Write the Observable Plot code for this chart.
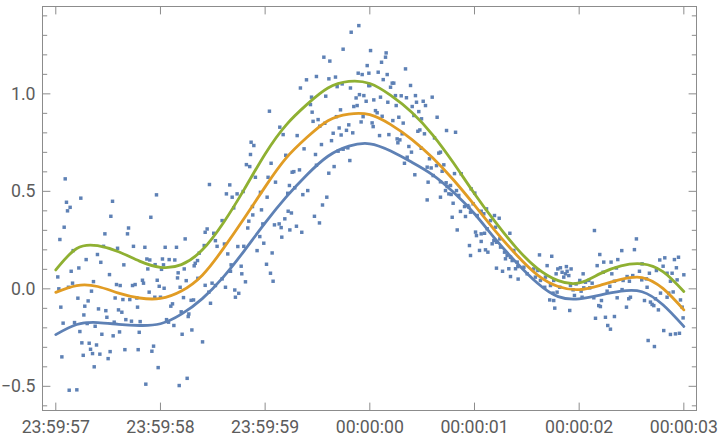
<!DOCTYPE html>
<html>
<head>
<meta charset="utf-8">
<script src="https://cdn.jsdelivr.net/npm/d3@7"></script>
<script src="https://cdn.jsdelivr.net/npm/@observablehq/plot@0.6"></script>
<style>
  html, body { margin: 0; padding: 0; background: #ffffff; }
  #chart { width: 720px; height: 440px; }
</style>
</head>
<body>
<div id="chart"></div>
<script>
// ---- data (seconds relative to 00:00:00, value) ----
const scatter = [
  [-2.910,0.564],[-2.038,0.482],[-2.761,0.465],[-2.458,0.449],[-2.898,0.444],[-2.863,0.418],[-2.888,0.400],[-2.474,0.372],
  [-2.092,0.367],[-2.920,0.316],[-2.305,0.312],[-2.961,0.253],[-1.764,0.256],[-2.315,0.282],[-2.531,0.282],[-1.573,0.290],
  [-2.258,0.218],[-2.410,0.208],[-2.149,0.213],[-1.955,0.213],[-1.847,0.213],[-2.544,0.218],[-2.834,0.196],[-1.582,0.222],
  [-1.630,0.183],[-2.602,0.176],[-2.710,0.150],[-2.130,0.153],[-2.102,0.148],[-1.981,0.153],[-1.917,0.150],[-1.863,0.148],
  [-1.646,0.145],[-2.570,0.136],[-2.350,0.123],[-2.051,0.124],[-1.971,0.123],[-1.668,0.131],[-1.678,0.118],[-2.121,0.102],
  [-1.990,0.100],[-1.773,0.102],[-2.780,0.107],[-2.853,0.090],[-2.981,0.061],[-2.487,0.073],[-1.831,0.082],[-1.837,0.056],
  [-2.172,0.044],[-2.031,0.044],[-1.754,0.042],[-2.640,0.037],[-1.643,0.054],[-2.840,0.029],[-2.420,0.022],[-2.385,0.017],
  [-2.267,0.017],[-2.242,0.022],[-2.162,0.029],[-2.012,0.013],[-1.965,0.003],[-1.812,0.008],[-1.573,0.018],[-2.971,0.000],
  [-2.879,0.008],[-2.659,-0.012],[-2.108,-0.017],[-2.433,-0.047],[-2.359,-0.055],[-2.293,-0.055],[-2.226,-0.047],[-2.054,-0.043],
  [-2.000,-0.043],[-2.789,-0.048],[-1.780,-0.045],[-1.707,-0.059],[-1.684,-0.057],[-2.691,-0.062],[-1.885,-0.077],[-1.901,-0.089],
  [-2.219,-0.094],[-2.952,-0.094],[-2.723,-0.089],[-2.592,-0.103],[-2.522,-0.112],[-2.401,-0.108],[-2.369,-0.120],[-1.802,-0.118],
  [-1.729,-0.129],[-2.732,-0.134],[-2.512,-0.146],[-2.331,-0.158],[-2.277,-0.166],[-2.194,-0.168],[-1.942,-0.158],[-1.923,-0.171],
  [-1.872,-0.188],[-1.735,-0.142],[-2.930,-0.176],[-2.821,-0.173],[-2.700,-0.178],[-2.624,-0.192],[-2.442,-0.171],[-2.770,-0.219],
  [-2.560,-0.233],[-2.452,-0.241],[-2.391,-0.221],[-2.203,-0.223],[-1.793,-0.233],[-1.700,-0.211],[-2.751,-0.277],[-2.681,-0.279],
  [-2.611,-0.288],[-2.668,-0.310],[-2.649,-0.332],[-2.738,-0.341],[-2.579,-0.335],[-2.481,-0.322],[-2.500,-0.358],[-2.340,-0.312],
  [-2.213,-0.312],[-2.082,-0.320],[-2.066,-0.294],[-1.598,-0.272],[-2.942,-0.349],[-2.633,-0.400],[-2.022,-0.404],[-2.140,-0.489],
  [-1.821,-0.496],[-1.745,-0.459],[-2.872,-0.520],[-2.799,-0.518],
  [-0.663,1.030],[-0.312,1.037],[-0.264,1.051],[-0.185,1.030],[-0.010,1.042],[-0.557,0.983],[-0.421,0.988],[-0.567,0.945],
  [-0.131,0.979],[-0.099,0.996],[-0.057,0.991],[-0.035,0.962],[-0.121,0.940],[-0.153,0.935],[-0.959,0.911],[-0.551,0.906],
  [-0.494,0.868],[-0.542,0.859],[-0.430,0.849],[-0.319,0.883],[-0.280,0.918],[-0.064,0.883],[-0.083,0.856],[-0.201,0.841],
  [-0.223,0.813],[-0.293,0.825],[-0.350,0.798],[-0.274,0.789],[-0.163,0.800],[-0.478,0.834],[-0.860,0.829],[-0.694,0.786],
  [-0.828,0.791],[-1.134,0.752],[-1.108,0.735],[-0.462,0.740],[-0.366,0.760],[-0.628,0.718],[-0.519,0.689],[-0.303,0.706],
  [-0.255,0.716],[-0.210,0.723],[-0.191,0.658],[-0.803,0.685],[-1.140,0.689],[-1.179,0.637],[-1.147,0.627],[-0.943,0.644],
  [-1.093,0.572],[-0.972,0.572],[-0.901,0.547],[-0.742,0.598],[-0.726,0.601],[-0.672,0.610],[-0.510,0.634],[-0.341,0.627],
  [-0.392,0.593],[-0.768,0.530],[-0.717,0.518],[-0.784,0.490],[-0.593,0.504],[-0.640,0.483],[-0.411,0.470],[-0.452,0.430],
  [-1.532,0.535],[-1.338,0.533],[-1.370,0.487],[-1.315,0.470],[-1.268,0.487],[-1.210,0.499],[-1.045,0.495],[-0.981,0.470],
  [-1.121,0.422],[-1.035,0.405],[-0.780,0.398],[-0.749,0.389],[-0.529,0.372],[-0.481,0.338],[-1.118,0.379],[-1.156,0.347],
  [-1.166,0.312],[-0.866,0.333],[-0.911,0.328],[-0.847,0.314],[-0.812,0.359],[-0.701,0.321],[-0.764,0.302],[-0.650,0.290],
  [-0.841,0.265],[-1.022,0.333],[-1.051,0.268],[-1.411,0.350],[-1.554,0.307],[-1.491,0.285],[-1.300,0.415],[-1.204,0.218],
  [-1.261,0.217],[-1.013,0.234],[-1.077,0.196],[-0.933,0.184],[-1.475,0.247],[-1.389,0.230],[-1.459,0.218],[-1.357,0.179],
  [-1.325,0.123],[-1.229,0.116],[-0.987,0.126],[-1.223,0.077],[-1.331,0.090],[-0.949,0.080],[-0.924,0.039],[-1.188,0.036],
  [-1.411,0.051],[-1.507,0.029],[-1.475,0.017],[-1.379,0.008],[-1.538,-0.017],[-1.290,-0.006],[-1.252,-0.023],[-1.284,-0.043],
  [-1.522,-0.074],
  [-0.605,1.072],[-0.510,1.089],[-0.439,1.188],[-0.382,1.168],[-0.255,1.229],[-0.178,1.316],[-0.105,1.350],[-0.391,1.077],
  [-0.328,1.086],[-0.111,1.106],[-0.073,1.099],
  [0.007,1.222],[0.156,1.210],[0.150,1.188],[0.112,1.162],[-0.025,1.145],[0.341,1.128],[-0.009,1.106],[0.080,1.111],
  [0.166,1.099],[0.128,1.073],[0.214,1.055],[0.229,1.055],[0.198,1.034],[0.389,1.043],[0.000,1.043],[0.038,0.969],
  [0.102,0.983],[0.172,0.957],[0.245,0.991],[0.252,0.940],[0.300,0.990],[0.350,0.980],[0.436,0.991],[0.446,0.957],
  [0.510,0.962],[0.405,0.935],[0.532,0.940],[0.596,0.983],[0.468,0.909],[0.054,0.914],[0.070,0.903],[0.022,0.851],
  [0.032,0.832],[0.118,0.885],[0.220,0.863],[0.277,0.880],[0.319,0.850],[0.421,0.889],[0.494,0.872],[0.643,0.880],
  [0.093,0.786],[0.182,0.791],[0.261,0.769],[0.287,0.764],[0.309,0.795],[0.268,0.749],[0.373,0.730],[0.398,0.701],
  [0.357,0.675],[0.331,0.644],[0.430,0.585],[0.491,0.721],[0.459,0.808],[0.478,0.815],[0.522,0.795],[0.733,0.812],
  [0.819,0.803],[0.548,0.624],[0.570,0.667],[0.586,0.620],[0.605,0.581],[0.618,0.774],[0.637,0.632],[0.659,0.696],
  [0.675,0.701],[0.707,0.636],[0.691,0.603],[0.557,0.547],[0.675,0.549],[0.729,0.544],[0.739,0.525],[0.771,0.530],
  [0.723,0.504],[0.755,0.487],[0.777,0.484],[0.809,0.591],[0.873,0.590],[0.828,0.504],[0.850,0.479],[0.548,0.456],
  [0.675,0.470],[0.796,0.439],[0.866,0.397],[0.905,0.422],[0.936,0.427],[0.987,0.436],[1.003,0.491],[0.968,0.513],
  [0.914,0.371],[0.787,0.367],[0.835,0.302],[0.946,0.419],[0.962,0.393],[1.026,0.376],[1.064,0.398],[1.089,0.385],
  [1.115,0.410],[1.153,0.350],[1.191,0.376],[1.236,0.362],[1.201,0.316],[1.121,0.308],[1.096,0.285],[1.064,0.282],
  [1.010,0.291],[1.019,0.273],[1.064,0.243],[1.105,0.200],[1.128,0.188],[1.169,0.231],[1.185,0.248],[1.210,0.239],
  [1.242,0.256],[1.338,0.285],[1.048,0.197],[0.952,0.222],[0.962,0.171],[1.249,0.214],[1.287,0.188],[1.312,0.171],
  [1.344,0.162],[1.360,0.145],[1.376,0.197],[1.408,0.137],[1.296,0.154],[1.210,0.106],[1.268,0.090],[1.328,0.103],
  [1.392,0.103],[1.414,0.114],[1.344,0.063],[1.417,0.050],[1.472,0.111],[1.503,0.077],
  [1.566,0.102],[1.605,0.094],[1.621,0.174],[1.582,0.060],[1.630,0.043],[1.678,0.060],[1.694,0.119],[1.738,0.167],
  [1.671,0.008],[1.726,0.017],[1.757,0.043],[1.780,0.077],[1.796,0.102],[1.821,0.108],[1.837,0.085],[1.853,0.060],
  [1.869,0.077],[1.885,0.090],[1.878,0.114],[1.923,0.102],[1.901,0.068],[1.815,0.008],[1.789,-0.017],[1.751,-0.022],
  [1.719,-0.057],[1.757,-0.060],[1.767,-0.099],[1.910,-0.111],[1.917,0.017],[1.942,-0.005],[1.971,0.025],[1.955,-0.034],
  [2.006,0.043],[2.038,0.077],[2.019,-0.012],[2.060,0.034],[2.092,0.043],[2.124,0.029],[2.044,0.005],[2.028,-0.043],
  [2.101,0.005],[2.146,0.299],[2.197,0.176],[2.172,0.119],[2.235,0.137],[2.229,0.085],[2.305,0.137],[2.312,0.077],
  [2.369,0.150],[2.356,0.107],[2.407,0.196],[2.337,0.039],[2.293,0.013],[2.267,-0.012],[2.213,-0.060],[2.187,-0.086],
  [2.203,-0.091],[2.156,-0.151],[2.251,-0.146],[2.337,-0.142],[2.273,-0.188],[2.299,-0.207],[2.140,-0.046],[2.363,-0.046],
  [2.410,-0.004],[2.420,0.043],[2.458,0.063],[2.480,0.039],[2.512,0.068],[2.490,-0.043],[2.474,-0.051],[2.452,-0.094],
  [2.547,0.256],[2.528,0.201],[2.576,0.090],[2.601,0.128],[2.598,0.046],[2.643,0.051],[2.671,0.080],[2.649,0.008],
  [2.624,-0.060],[2.681,-0.068],[2.697,-0.080],[2.713,-0.086],[2.729,-0.051],[2.757,-0.108],[2.738,0.094],[2.770,0.148],
  [2.818,0.159],[2.802,0.116],[2.840,0.080],[2.888,0.080],[2.910,0.150],[2.949,0.162],[2.929,0.108],[2.936,0.046],
  [2.872,0.039],[2.840,-0.043],[2.898,-0.016],[2.856,-0.022],[2.777,-0.022],[2.808,-0.214],[2.872,-0.234],[2.920,-0.231],
  [2.958,-0.228],[2.659,-0.265],[2.719,-0.296],[2.968,-0.057],[2.984,-0.094],[2.993,-0.149],[3.000,0.072]
];

const curveSeconds = [-3.0,-2.8,-2.6,-2.4,-2.2,-2.0,-1.8,-1.6,-1.4,-1.2,-1.0,-0.8,-0.6,-0.4,-0.2,0.0,
                      0.2,0.4,0.6,0.8,1.0,1.2,1.4,1.6,1.8,2.0,2.2,2.4,2.6,2.8,3.0];
const lowerCurve  = [-0.235,-0.183,-0.173,-0.182,-0.188,-0.179,-0.130,-0.050,0.060,0.195,0.338,0.470,0.585,0.680,0.732,0.744,
                      0.707,0.650,0.585,0.495,0.385,0.255,0.135,0.030,-0.040,-0.051,-0.032,-0.012,-0.015,-0.082,-0.193];
const medianCurve = [-0.018,0.017,0.012,-0.022,-0.047,-0.049,-0.011,0.070,0.206,0.362,0.523,0.670,0.777,0.862,0.896,0.893,
                      0.842,0.767,0.672,0.558,0.429,0.296,0.175,0.072,0.012,-0.004,0.018,0.048,0.058,0.002,-0.108];
const upperCurve  = [0.097,0.207,0.221,0.190,0.142,0.110,0.124,0.200,0.338,0.510,0.692,0.840,0.946,1.030,1.064,1.053,
                      0.992,0.906,0.790,0.645,0.488,0.342,0.210,0.105,0.042,0.030,0.078,0.118,0.128,0.088,-0.014];

const xTickSeconds = [-3,-2,-1,0,1,2,3];
const yTicksMajor = [-0.5,0,0.5,1];
const yTicksMinor = [-0.6,-0.4,-0.3,-0.2,-0.1,0.1,0.2,0.3,0.4,0.6,0.7,0.8,0.9,1.1,1.2,1.3,1.4];
const xDomainSeconds = [-3.127, 3.121];
const yDomain = [-0.624, 1.448];
const seriesColors = ["#5E81B5", "#E19C24", "#8FB032"];

// ---- build ----
const midnight = Date.UTC(2000, 0, 1, 0, 0, 0);
const toDate = s => new Date(midnight + s * 1000);
const xDomain = xDomainSeconds.map(toDate);
const frameColor = "#8c8c8c";
const labelColor = "#5c5c5c";
const tickShape = { draw(ctx, l) { ctx.moveTo(0, 0); ctx.lineTo(0, -l); } };

const curves = [lowerCurve, medianCurve, upperCurve];

function ticks(values, pos, opts) {
  return Plot.vector(values, Object.assign({ anchor: "start", shape: tickShape, stroke: frameColor, strokeWidth: 1 }, pos, opts));
}

const chart = Plot.plot({
  width: 720,
  height: 440,
  marginLeft: 42,
  marginRight: 24,
  marginTop: 6,
  marginBottom: 30,
  style: { fontFamily: "Roboto", fontSize: "17.7px", background: "#ffffff", color: labelColor },
  x: { type: "utc", domain: xDomain },
  y: { domain: yDomain },
  marks: [
    Plot.dot(scatter, { x: d => toDate(d[0]), y: d => d[1], symbol: "square", r: 1.95, fill: seriesColors[0], stroke: "none" }),
    ...curves.map((vals, k) => Plot.line(curveSeconds, {
      x: s => toDate(s), y: (s, i) => vals[i], curve: "natural",
      stroke: seriesColors[k], strokeWidth: 2.8
    })),
    Plot.frame({ stroke: frameColor, strokeWidth: 1 }),
    // bottom / top major x ticks
    ticks(xTickSeconds, { x: s => toDate(s), y: yDomain[0] }, { length: 7.5, rotate: 0 }),
    ticks(xTickSeconds, { x: s => toDate(s), y: yDomain[1] }, { length: 7.5, rotate: 180 }),
    // left / right y ticks
    ticks(yTicksMajor, { x: xDomain[0], y: d => d }, { length: 7.5, rotate: 90 }),
    ticks(yTicksMinor, { x: xDomain[0], y: d => d }, { length: 4.3, rotate: 90 }),
    ticks(yTicksMajor, { x: xDomain[1], y: d => d }, { length: 7.5, rotate: -90 }),
    ticks(yTicksMinor, { x: xDomain[1], y: d => d }, { length: 4.3, rotate: -90 }),
    Plot.axisX(xTickSeconds.map(toDate), {
      anchor: "bottom", tickSize: 0, tickPadding: 10,
      tickFormat: d3.utcFormat("%H:%M:%S"), fill: labelColor, fontSize: 17.7, label: null
    }),
    Plot.axisY(yTicksMajor, {
      anchor: "left", tickSize: 0, tickPadding: 7,
      tickFormat: d3.format(".1f"), fill: labelColor, fontSize: 17.7, label: null
    })
  ]
});

document.getElementById("chart").appendChild(chart);
</script>
</body>
</html>
